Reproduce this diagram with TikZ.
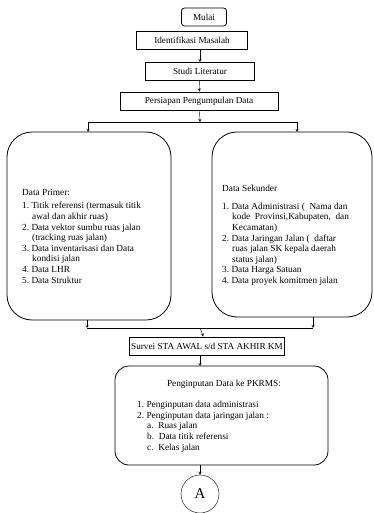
\documentclass[tikz,border=0pt]{standalone}
\usepackage{fontspec}
\setmainfont{Liberation Serif}
\usetikzlibrary{positioning}
\newcommand\sisip{\makebox[10pt][l]{}}

\begin{document}
\begin{tikzpicture}[x=1pt,y=-1pt,>=stealth,
    stepbox/.style={draw,thick,minimum height=18pt,inner sep=2pt,font=\fontsize{9.2}{10.5}\selectfont},
    bigbox/.style={draw,thick,rounded corners=25pt},
    listtext/.style={align=left,anchor=north west,inner sep=0pt,font=\fontsize{9.3}{10.6}\selectfont}]
    \useasboundingbox (0,0) rectangle (374,513);
    \node[stepbox,rounded corners=3pt,minimum width=45pt] (mulai) at (204,17) {Mulai};
    \node[stepbox,minimum width=111pt] (identifikasi) at (192,40.5) {Identifikasi Masalah};
    \node[stepbox,minimum width=109pt] (studi) at (200,71.5) {Studi Literatur};
    \node[stepbox,minimum width=158pt] (persiapan) at (199,101) {Persiapan Pengumpulan Data};

    % dua kotak data
    \node[bigbox,minimum width=164pt,minimum height=188pt] (primer) at (89,226) {};
    \node[bigbox,minimum width=160pt,minimum height=185pt] (sekunder) at (292,224.5) {};
    \node[listtext] (primerteks) at (22,189) {Data Primer:\\[3pt]
        1.\ Titik referensi (termasuk titik\\
        \sisip awal dan akhir ruas)\\
        2.\ Data vektor sumbu ruas jalan\\
        \sisip (tracking ruas jalan)\\
        3.\ Data inventarisasi dan Data\\
        \sisip kondisi jalan\\
        4.\ Data LHR\\
        5.\ Data Struktur};
    \node[listtext] (sekunderteks) at (222,185) {Data Sekunder\\[7pt]
        1.\ Data Administrasi ( \ Nama dan\\
        \sisip kode \ Provinsi,Kabupaten, \ dan\\
        \sisip Kecamatan)\\
        2.\ Data Jaringan Jalan ( \ daftar\\
        \sisip ruas jalan SK kepala daerah\\
        \sisip status jalan)\\
        3.\ Data Harga Satuan\\
        4.\ Data proyek komitmen jalan};

    \node[stepbox,minimum width=145pt] (survei) at (207,346) {Survei STA AWAL s/d STA AKHIR KM};
    \node[bigbox,rounded corners=14pt,minimum width=213pt,minimum height=99pt] (pkrms) at (221.5,415.5) {};
    \node[font=\fontsize{9.3}{10.6}\selectfont,inner sep=0pt] (pkrmsjudul) at (224,384) {Penginputan Data ke PKRMS:};
    \node[listtext] (pkrmsteks) at (137,401) {1.\ Penginputan data administrasi\\
        2.\ Penginputan data jaringan jalan :\\
        \sisip a.\ \ Ruas jalan\\
        \sisip b.\ \ Data titik referensi\\
        \sisip c.\ \ Kelas jalan};
    \node[draw,circle,minimum size=38pt,inner sep=0pt,font=\fontsize{15}{15}\selectfont] (a) at (200,494) {A};

    \coordinate (pisah) at (200,122);
    \coordinate (gabung) at (200,328);
    \draw[->] (identifikasi.south -| studi) -- (studi);
    \draw[->] (studi) -- (persiapan);
    \draw[->] (persiapan) -- (pisah);
    \draw (88,122) -- (297,122);
    \draw[->] (88,122) -- (88,132);
    \draw[->] (297,122) -- (297,132);
    \draw[->] (primer.south -| 87,0) -- (87,328);
    \draw[->] (313,317) -- (313,328);
    \draw (87,328) -- (313,328);
    \draw[->] (gabung) -- (survei);
    \draw[->] (survei.south -| 200,0) -- (200,366);
    \draw[->] (200,465) -- (a);
\end{tikzpicture}
\end{document}
